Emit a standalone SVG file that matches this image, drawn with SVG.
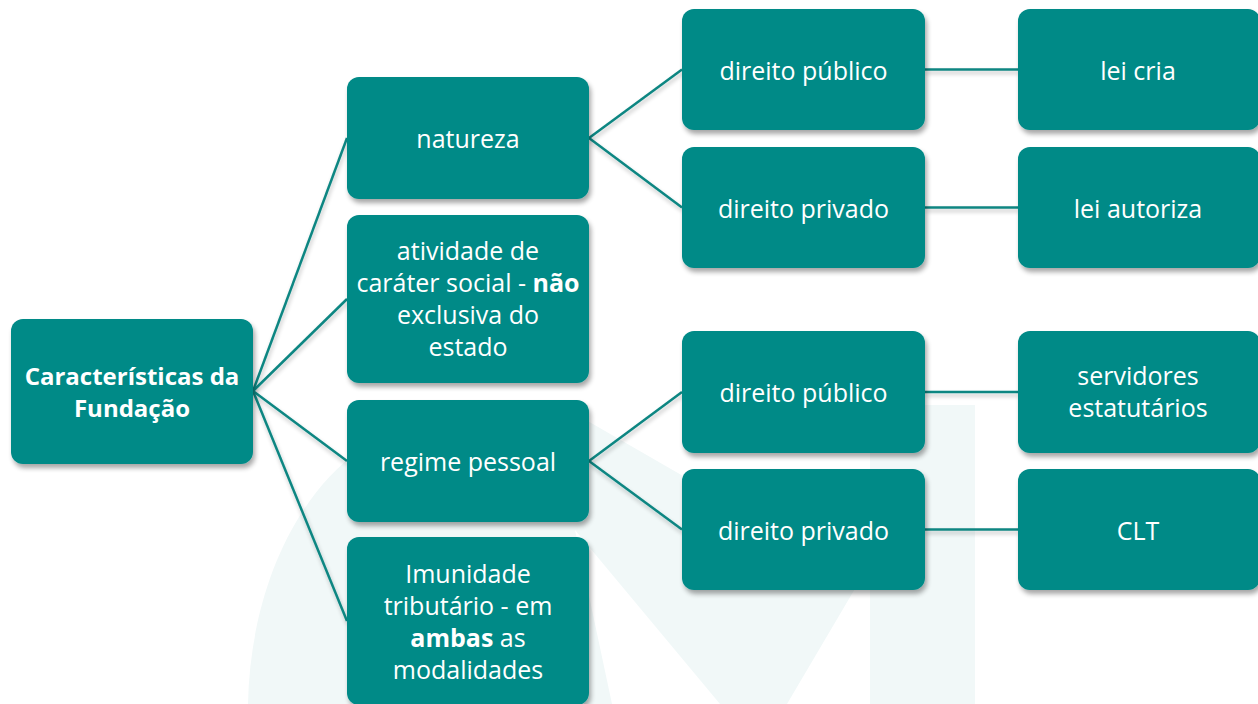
<svg xmlns="http://www.w3.org/2000/svg" width="1258" height="704" viewBox="0 0 1258 704">
<defs>
<filter id="sh" x="-10%" y="-10%" width="125%" height="130%">
<feGaussianBlur in="SourceAlpha" stdDeviation="2.5"/>
<feOffset dx="2" dy="4" result="b"/>
<feComponentTransfer><feFuncA type="linear" slope="0.35"/></feComponentTransfer>
<feMerge><feMergeNode/><feMergeNode in="SourceGraphic"/></feMerge>
</filter>
<filter id="lsh" x="-5%" y="-5%" width="110%" height="120%">
<feGaussianBlur in="SourceAlpha" stdDeviation="2"/>
<feOffset dx="1" dy="3" result="b"/>
<feComponentTransfer><feFuncA type="linear" slope="0.25"/></feComponentTransfer>
<feMerge><feMergeNode/><feMergeNode in="SourceGraphic"/></feMerge>
</filter>
</defs>
<style>
.box{fill:#028a87;filter:url(#sh)}
.t{font-family:"Open Sans","Noto Sans","DejaVu Sans",sans-serif;font-size:25px;fill:#ffffff;text-anchor:middle}
.b{font-weight:bold}
.root{font-size:24px;font-weight:bold}
.c{stroke:#0c8682;stroke-width:2.5;fill:none}
.wm{fill:#f1f8f8}
</style>
<rect width="1258" height="704" fill="#ffffff"/>
<g id="watermark">
<path class="wm" d="M248,704 C250,600 290,500 360,450 C420,410 500,395 560,405 L690,480 L925,470 L787,704 L720,704 L575,530 L612,704 Z"/>
<rect class="wm" x="870" y="405" width="105" height="299"/>
</g>
<g id="connectors" filter="url(#lsh)">
<line class="c" x1="253" y1="391" x2="347" y2="138"/>
<line class="c" x1="253" y1="391" x2="347" y2="299"/>
<line class="c" x1="253" y1="391" x2="347" y2="461"/>
<line class="c" x1="253" y1="391" x2="347" y2="621"/>
<line class="c" x1="589" y1="138" x2="682" y2="69.5"/>
<line class="c" x1="589" y1="138" x2="682" y2="207.5"/>
<line class="c" x1="589" y1="461" x2="682" y2="392"/>
<line class="c" x1="589" y1="461" x2="682" y2="529.5"/>
<line class="c" x1="925" y1="69.5" x2="1018" y2="69.5"/>
<line class="c" x1="925" y1="207.5" x2="1018" y2="207.5"/>
<line class="c" x1="925" y1="392" x2="1018" y2="392"/>
<line class="c" x1="925" y1="529.5" x2="1018" y2="529.5"/>
</g>
<g id="root">
<rect class="box" x="11" y="319" width="242" height="145" rx="12"/>
<text class="t root" x="132" y="385">Características da</text>
<text class="t root" x="132" y="417">Fundação</text>
</g>
<g id="natureza">
<rect class="box" x="347" y="77" width="242" height="122" rx="12"/>
<text class="t" x="468" y="148">natureza</text>
</g>
<g id="atividade">
<rect class="box" x="347" y="215" width="242" height="168" rx="12"/>
<text class="t" x="468" y="260">atividade de</text>
<text class="t" x="468" y="292">caráter social - <tspan class="b">não</tspan></text>
<text class="t" x="468" y="324">exclusiva do</text>
<text class="t" x="468" y="356">estado</text>
</g>
<g id="regime">
<rect class="box" x="347" y="400" width="242" height="122" rx="12"/>
<text class="t" x="468" y="471">regime pessoal</text>
</g>
<g id="imunidade">
<rect class="box" x="347" y="537" width="242" height="168" rx="12"/>
<text class="t" x="468" y="583">Imunidade</text>
<text class="t" x="468" y="615">tributário - em</text>
<text class="t" x="468" y="647"><tspan class="b">ambas</tspan> as</text>
<text class="t" x="468" y="679">modalidades</text>
</g>
<g id="nat-publico">
<rect class="box" x="682" y="9" width="243" height="121" rx="12"/>
<text class="t" x="803.5" y="79.5">direito público</text>
</g>
<g id="nat-privado">
<rect class="box" x="682" y="147" width="243" height="121" rx="12"/>
<text class="t" x="803.5" y="217.5">direito privado</text>
</g>
<g id="reg-publico">
<rect class="box" x="682" y="331" width="243" height="122" rx="12"/>
<text class="t" x="803.5" y="402">direito público</text>
</g>
<g id="reg-privado">
<rect class="box" x="682" y="469" width="243" height="121" rx="12"/>
<text class="t" x="803.5" y="539.5">direito privado</text>
</g>
<g id="lei-cria">
<rect class="box" x="1018" y="9" width="242" height="121" rx="12"/>
<text class="t" x="1138" y="79.5">lei cria</text>
</g>
<g id="lei-autoriza">
<rect class="box" x="1018" y="147" width="242" height="121" rx="12"/>
<text class="t" x="1138" y="217.5">lei autoriza</text>
</g>
<g id="servidores">
<rect class="box" x="1018" y="331" width="242" height="122" rx="12"/>
<text class="t" x="1138" y="385">servidores</text>
<text class="t" x="1138" y="417">estatutários</text>
</g>
<g id="clt">
<rect class="box" x="1018" y="469" width="242" height="121" rx="12"/>
<text class="t" x="1138" y="539.5">CLT</text>
</g>
</svg>
